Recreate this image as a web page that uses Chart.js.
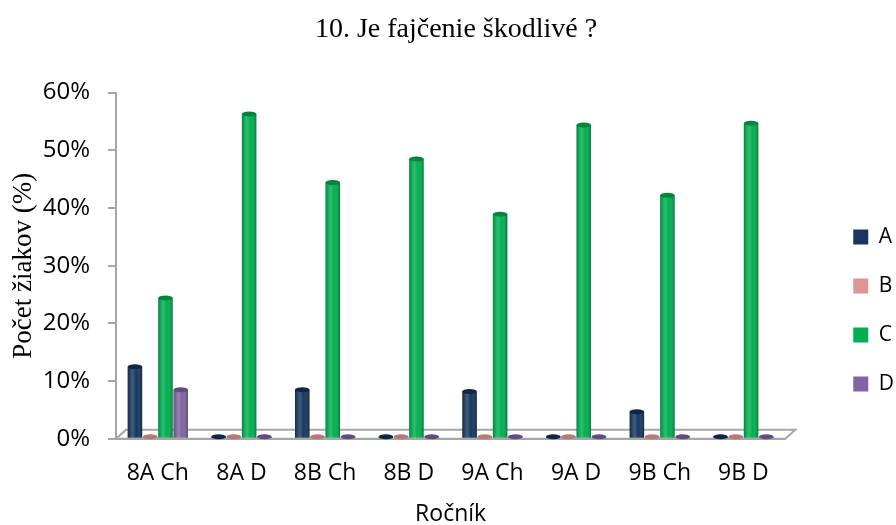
<!DOCTYPE html>
<html>
<head>
<meta charset="utf-8">
<script src="https://cdn.jsdelivr.net/npm/chart.js@4/dist/chart.umd.min.js"></script>
<style>
  html, body { margin: 0; padding: 0; background: #fff; }
  #wrap { width: 896px; height: 525px; }
</style>
</head>
<body>
<div id="wrap"><canvas id="chart" width="896" height="525"></canvas></div>
<script>
// Data
const classes = ["8A Ch", "8A D", "8B Ch", "8B D", "9A Ch", "9A D", "9B Ch", "9B D"];
const answerA = [12.5, 0, 8.5, 0, 8.2, 0, 4.7, 0];
const answerB = [0, 0, 0, 0, 0, 0, 0, 0];
const answerC = [24.4, 56.3, 44.4, 48.5, 38.9, 54.4, 42.2, 54.7];
const answerD = [8.5, 0, 0, 0, 0, 0, 0, 0];
const yTicks = [0, 10, 20, 30, 40, 50, 60];

const sans = "'Open Sans', sans-serif";
const serif = "'Liberation Serif', 'DejaVu Serif', serif";

// grey 3D floor under the bars
const floorPlugin = {
  id: "floor",
  beforeDatasetsDraw(chart) {
    const { ctx, chartArea } = chart;
    const y0 = chart.scales.y.getPixelForValue(0);
    ctx.save();
    ctx.strokeStyle = "#a6a6a6";
    ctx.lineWidth = 2;
    ctx.beginPath();
    ctx.moveTo(chartArea.left, y0);
    ctx.lineTo(chartArea.left + 10, y0 - 9);
    ctx.lineTo(chartArea.right + 10, y0 - 9);
    ctx.lineTo(chartArea.right, y0);
    ctx.closePath();
    ctx.stroke();
    ctx.restore();
  }
};

// cylinder shading + top cap on every bar the library laid out
const shadePlugin = {
  id: "shade",
  afterDatasetsDraw(chart) {
    const ctx = chart.ctx;
    chart.data.datasets.forEach((ds, i) => {
      chart.getDatasetMeta(i).data.forEach(bar => {
        const { x, y, base, width } = bar.getProps(["x", "y", "base", "width"], true);
        const l = x - width / 2, r = x + width / 2;
        const g = ctx.createLinearGradient(l, 0, r, 0);
        g.addColorStop(0, "rgba(0,0,0,0.25)");
        g.addColorStop(0.35, "rgba(255,255,255,0.18)");
        g.addColorStop(0.6, "rgba(255,255,255,0)");
        g.addColorStop(1, "rgba(0,0,0,0.3)");
        ctx.save();
        ctx.fillStyle = g;
        ctx.fillRect(l, y, width, base - y);
        ctx.beginPath();
        ctx.ellipse(x, y, width / 2, 2.5, 0, 0, Math.PI * 2);
        ctx.fillStyle = ds.borderColor;
        ctx.fill();
        ctx.restore();
      });
    });
  }
};

new Chart(document.getElementById("chart"), {
  type: "bar",
  data: {
    labels: classes,
    datasets: [
      { label: "A", data: answerA, backgroundColor: "#17375E", borderColor: "#0f2744" },
      { label: "B", data: answerB, backgroundColor: "#D99694", borderColor: "#b97775" },
      { label: "C", data: answerC, backgroundColor: "#00B050", borderColor: "#00863c" },
      { label: "D", data: answerD, backgroundColor: "#8064A2", borderColor: "#604a7e" }
    ].map(d => Object.assign(d, {
      borderWidth: 0,
      minBarLength: 2,
      categoryPercentage: 0.73,
      barPercentage: 0.95
    }))
  },
  options: {
    responsive: false,
    animation: false,
    layout: { padding: { left: 8, right: -8, bottom: -3 } },
    plugins: {
      title: {
        display: true,
        text: "10. Je fajčenie škodlivé ?",
        color: "#000",
        font: { family: serif, size: 28, weight: "normal" },
        padding: { top: 13, bottom: 46 }
      },
      legend: {
        position: "right",
        title: { display: true, text: " ", font: { size: 21 }, padding: { top: 34, bottom: 34 } },
        labels: {
          color: "#000",
          font: { family: sans, size: 21 },
          boxWidth: 15,
          boxHeight: 15,
          padding: 28
        }
      },
      tooltip: { enabled: false }
    },
    scales: {
      x: {
        grid: { display: false },
        border: { color: "#a6a6a6", width: 2 },
        ticks: { color: "#000", font: { family: sans, size: 23 }, padding: 13 },
        title: {
          display: true,
          text: "Ročník",
          color: "#000",
          font: { family: sans, size: 23 },
          padding: { top: 0, bottom: 0 }
        }
      },
      y: {
        min: 0,
        max: 60,
        afterBuildTicks: axis => { axis.ticks = yTicks.map(v => ({ value: v })); },
        afterFit: s => { s.width = 108; },
        grid: { drawOnChartArea: false, tickLength: 8, color: "#a6a6a6", lineWidth: 2 },
        border: { color: "#a6a6a6", width: 2 },
        ticks: {
          color: "#000",
          font: { family: sans, size: 24 },
          padding: 18,
          callback: v => v + "%"
        },
        title: {
          display: true,
          text: "Počet žiakov (%)",
          color: "#000",
          font: { family: serif, size: 27 },
          padding: { top: 0, bottom: 0 }
        }
      },
      // empty spacer between the plot and the legend
      gap: {
        position: "right",
        display: true,
        grid: { display: false },
        border: { display: false },
        ticks: { display: false },
        afterFit: s => { s.width = 40; }
      }
    }
  },
  plugins: [floorPlugin, shadePlugin]
});
</script>
</body>
</html>
